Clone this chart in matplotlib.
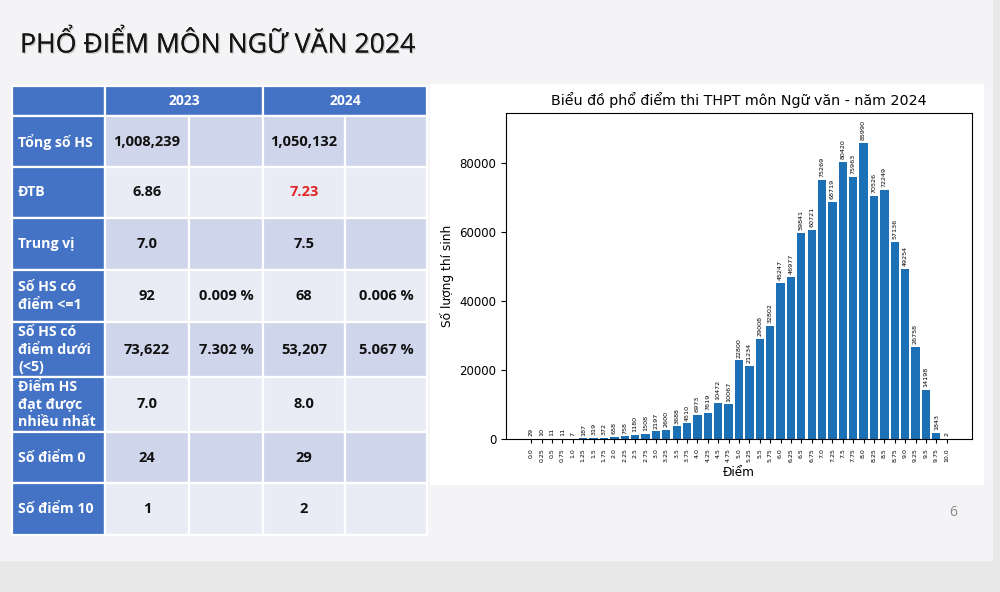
import matplotlib
matplotlib.use("Agg")
import matplotlib.pyplot as plt
from matplotlib.patches import Rectangle
import matplotlib.patheffects as pe

# ---------------- data ----------------
score_labels = ['0.0', '0.25', '0.5', '0.75', '1.0', '1.25', '1.5', '1.75', '2.0', '2.25',
                '2.5', '2.75', '3.0', '3.25', '3.5', '3.75', '4.0', '4.25', '4.5', '4.75',
                '5.0', '5.25', '5.5', '5.75', '6.0', '6.25', '6.5', '6.75', '7.0', '7.25',
                '7.5', '7.75', '8.0', '8.25', '8.5', '8.75', '9.0', '9.25', '9.5', '9.75', '10.0']
counts = [29, 10, 11, 11, 7, 187, 319, 372, 658, 758,
          1180, 1508, 2197, 2600, 3688, 4510, 6973, 7619, 10472, 10067,
          22800, 21234, 29008, 32802, 45247, 46977, 59841, 60721, 75269, 68719,
          80420, 75963, 85990, 70526, 72249, 57136, 49254, 26758, 14198, 1843, 2]

table_years = ['2023', '2024']
row_labels = ['Tổng số HS', 'ĐTB', 'Trung vị', 'Số HS có\nđiểm <=1',
              'Số HS có\nđiểm dưới\n(<5)', 'Điểm HS\nđạt được\nnhiều nhất',
              'Số điểm 0', 'Số điểm 10']
val_2023 = ['1,008,239', '6.86', '7.0', '92', '73,622', '7.0', '24', '1']
pct_2023 = ['', '', '', '0.009 %', '7.302 %', '', '', '']
val_2024 = ['1,050,132', '7.23', '7.5', '68', '53,207', '8.0', '29', '2']
pct_2024 = ['', '', '', '0.006 %', '5.067 %', '', '', '']

slide_title = 'PHỔ ĐIỂM MÔN NGỮ VĂN 2024'
chart_title = 'Biểu đồ phổ điểm thi THPT môn Ngữ văn - năm 2024'

# ---------------- figure ----------------
W, H = 1000, 592
fig = plt.figure(figsize=(W / 100, H / 100), dpi=100)
fig.patch.set_facecolor('#e8e8e8')
bg = fig.add_axes([0, 0, 1, 1])
bg.set_xlim(0, W)
bg.set_ylim(H, 0)
bg.axis('off')

bg.add_patch(Rectangle((0, 0), 992, 560, color='#f4f4f7', zorder=0))
bg.add_patch(Rectangle((430, 84), 553, 400, color='white', zorder=1))

tfont = ['Open Sans', 'DejaVu Sans']
bg.text(20, 45, slide_title, fontsize=19.2, family=tfont, color='#151515', va='center', ha='left',
        path_effects=[pe.withSimplePatchShadow(offset=(1.0, -1.0), shadow_rgbFace='#999999', alpha=0.45),
                      pe.Normal()])

# table
col_x = [12, 105, 189, 263, 345, 427]
row_y = [86, 116, 167, 218, 270, 322, 377, 432, 483, 535]
blue = '#4472c4'
dark = '#cfd5ea'
light = '#e9ebf5'
ec = 'white'
lw = 1.6

# header
bg.add_patch(Rectangle((col_x[0], row_y[0]), col_x[1] - col_x[0], row_y[1] - row_y[0], fc=blue, ec=ec, lw=lw, zorder=2))
for k, yr in enumerate(table_years):
    x0 = col_x[1 + 2 * k]
    x1 = col_x[3 + 2 * k]
    bg.add_patch(Rectangle((x0, row_y[0]), x1 - x0, row_y[1] - row_y[0], fc=blue, ec=ec, lw=lw, zorder=2))
    bg.text((x0 + x1) / 2, (row_y[0] + row_y[1]) / 2, yr, color='white', fontsize=10, weight='bold',
            family=tfont, ha='center', va='center', zorder=3)

for i, lab in enumerate(row_labels):
    y0, y1 = row_y[i + 1], row_y[i + 2]
    fc = dark if i % 2 == 0 else light
    bg.add_patch(Rectangle((col_x[0], y0), col_x[1] - col_x[0], y1 - y0, fc=blue, ec=ec, lw=lw, zorder=2))
    bg.text(18, (y0 + y1) / 2, lab, color='white', fontsize=10.2, weight='bold', family=tfont,
            ha='left', va='center', linespacing=1.32, zorder=3)
    cells = [val_2023[i], pct_2023[i], val_2024[i], pct_2024[i]]
    for j, txt in enumerate(cells):
        x0, x1 = col_x[j + 1], col_x[j + 2]
        bg.add_patch(Rectangle((x0, y0), x1 - x0, y1 - y0, fc=fc, ec=ec, lw=lw, zorder=2))
        color = '#e32626' if (i == 1 and j == 2) else '#111111'
        bg.text((x0 + x1) / 2, (y0 + y1) / 2, txt, color=color, fontsize=10.5, weight='bold',
                family=tfont, ha='center', va='center', zorder=3)

bg.text(953, 513, '6', fontsize=10, color='#8a8a8a', family=tfont, ha='center', va='center')

# ---------------- chart ----------------
left, right, top, bottom = 506, 972, 113, 439
ax = fig.add_axes([left / W, (H - bottom) / H, (right - left) / W, (bottom - top) / H])
ax.set_facecolor('white')
x = list(range(len(counts)))
bars = ax.bar(x, counts, width=0.8, color='#1c70b6')
ax.bar_label(bars, labels=[str(c) for c in counts], rotation=90, fontsize=4.6, padding=2)
ax.set_xticks(x)
ax.set_xticklabels(score_labels, rotation=90, fontsize=4.5)
ax.tick_params(axis='y', labelsize=8.5)
ax.tick_params(axis='x', length=3)
ax.set_ylim(0, max(counts) * 1.1)
ax.set_title(chart_title, fontsize=10.3)
ax.set_xlabel('Điểm', fontsize=8.7, labelpad=3)
ax.set_ylabel('Số lượng thí sinh', fontsize=8.8)

fig.savefig('out.png', dpi=100, facecolor=fig.get_facecolor())
